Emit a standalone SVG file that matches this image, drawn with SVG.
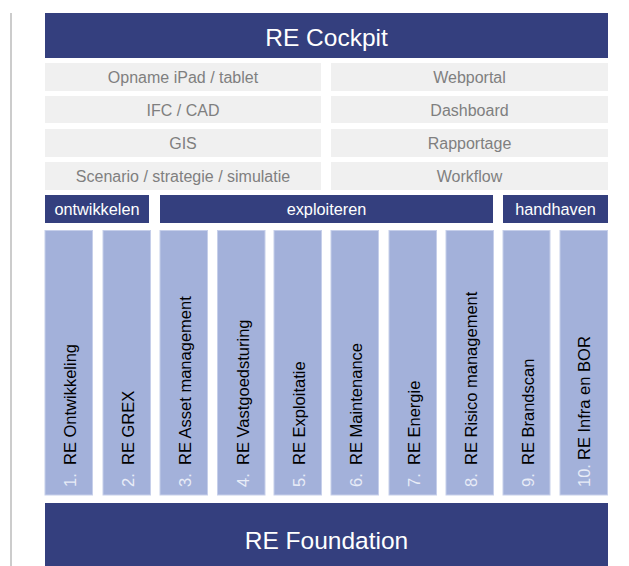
<svg xmlns="http://www.w3.org/2000/svg" width="629" height="566" viewBox="0 0 629 566">
<style>
.dark{fill:#343f7e}
.grey{fill:#f0f0f0}
.col{fill:#a3b1da;stroke:#c6cfea;stroke-width:1}
.t{font-family:"Liberation Sans",Arial,sans-serif}
.big{font-size:24.5px;fill:#ffffff}
.gt{font-size:16px;fill:#7f7f7f}
.ct{font-size:16.3px;fill:#ffffff}
.lab{font-size:16.5px;fill:#000000}
.num{font-size:16.5px;fill:#e8ecf7}
</style>
<rect x="0" y="0" width="629" height="566" fill="#ffffff"/>
<rect x="10" y="13" width="2" height="553" fill="#cccccc"/>
<g id="cockpit"><rect class="dark" x="45" y="13" width="563" height="45"/><text class="t big" x="326.5" y="45.5" text-anchor="middle">RE Cockpit</text></g>
<g id="opname"><rect class="grey" x="45" y="63" width="276" height="28"/><text class="t gt" x="183" y="83" text-anchor="middle">Opname iPad / tablet</text></g>
<g id="ifc"><rect class="grey" x="45" y="96" width="276" height="27"/><text class="t gt" x="183" y="116" text-anchor="middle">IFC / CAD</text></g>
<g id="gis"><rect class="grey" x="45" y="129" width="276" height="28"/><text class="t gt" x="183" y="149" text-anchor="middle">GIS</text></g>
<g id="scenario"><rect class="grey" x="45" y="162" width="276" height="28"/><text class="t gt" x="183" y="182" text-anchor="middle">Scenario / strategie / simulatie</text></g>
<g id="webportal"><rect class="grey" x="331" y="63" width="277" height="28"/><text class="t gt" x="469.5" y="83" text-anchor="middle">Webportal</text></g>
<g id="dashboard"><rect class="grey" x="331" y="96" width="277" height="27"/><text class="t gt" x="469.5" y="116" text-anchor="middle">Dashboard</text></g>
<g id="rapportage"><rect class="grey" x="331" y="129" width="277" height="28"/><text class="t gt" x="469.5" y="149" text-anchor="middle">Rapportage</text></g>
<g id="workflow"><rect class="grey" x="331" y="162" width="277" height="28"/><text class="t gt" x="469.5" y="182" text-anchor="middle">Workflow</text></g>
<g id="ontwikkelen"><rect class="dark" x="45" y="195" width="104" height="28"/><text class="t ct" x="97" y="215" text-anchor="middle">ontwikkelen</text></g>
<g id="exploiteren"><rect class="dark" x="160" y="195" width="333" height="28"/><text class="t ct" x="326.5" y="215" text-anchor="middle">exploiteren</text></g>
<g id="handhaven"><rect class="dark" x="503" y="195" width="105" height="28"/><text class="t ct" x="555.5" y="215" text-anchor="middle">handhaven</text></g>
<g id="c1"><rect class="col" x="45" y="230.5" width="47.5" height="264.5"/><text class="t num" transform="translate(76,487) rotate(-90)">1.</text><text class="t lab" transform="translate(76,465) rotate(-90)">RE Ontwikkeling</text></g>
<g id="c2"><rect class="col" x="103" y="230.5" width="47.5" height="264.5"/><text class="t num" transform="translate(134,487) rotate(-90)">2.</text><text class="t lab" transform="translate(134,465) rotate(-90)">RE GREX</text></g>
<g id="c3"><rect class="col" x="160" y="230.5" width="47.5" height="264.5"/><text class="t num" transform="translate(191,487) rotate(-90)">3.</text><text class="t lab" transform="translate(191,465) rotate(-90)">RE Asset management</text></g>
<g id="c4"><rect class="col" x="217.5" y="230.5" width="47.5" height="264.5"/><text class="t num" transform="translate(248.5,487) rotate(-90)">4.</text><text class="t lab" transform="translate(248.5,465) rotate(-90)">RE Vastgoedsturing</text></g>
<g id="c5"><rect class="col" x="274" y="230.5" width="47.5" height="264.5"/><text class="t num" transform="translate(305,487) rotate(-90)">5.</text><text class="t lab" transform="translate(305,465) rotate(-90)">RE Exploitatie</text></g>
<g id="c6"><rect class="col" x="331" y="230.5" width="47.5" height="264.5"/><text class="t num" transform="translate(362,487) rotate(-90)">6.</text><text class="t lab" transform="translate(362,465) rotate(-90)">RE Maintenance</text></g>
<g id="c7"><rect class="col" x="389" y="230.5" width="47.5" height="264.5"/><text class="t num" transform="translate(420,487) rotate(-90)">7.</text><text class="t lab" transform="translate(420,465) rotate(-90)">RE Energie</text></g>
<g id="c8"><rect class="col" x="446" y="230.5" width="47.5" height="264.5"/><text class="t num" transform="translate(477,487) rotate(-90)">8.</text><text class="t lab" transform="translate(477,465) rotate(-90)">RE Risico management</text></g>
<g id="c9"><rect class="col" x="503" y="230.5" width="47" height="264.5"/><text class="t num" transform="translate(534,487) rotate(-90)">9.</text><text class="t lab" transform="translate(534,465) rotate(-90)">RE Brandscan</text></g>
<g id="c10"><rect class="col" x="560" y="230.5" width="47.5" height="264.5"/><text class="t num" transform="translate(590,487) rotate(-90)">10.</text><text class="t lab" transform="translate(590,460) rotate(-90)">RE Infra en BOR</text></g>
<g id="foundation"><rect class="dark" x="45" y="503" width="563" height="63"/><text class="t big" x="326.5" y="548.5" text-anchor="middle">RE Foundation</text></g>
<g id="connectors"/>
</svg>
